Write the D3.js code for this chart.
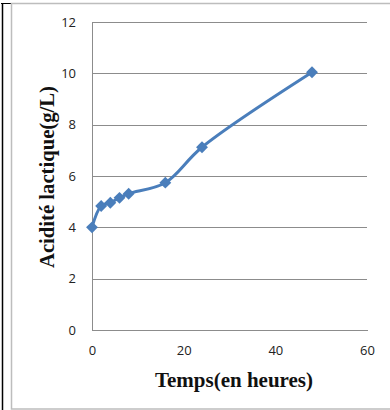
<!DOCTYPE html>
<html>
<head>
<meta charset="utf-8">
<script src="https://cdn.jsdelivr.net/npm/d3@7"></script>
<style>
  html, body { margin: 0; padding: 0; background: #fff; }
  svg { display: block; }
</style>
</head>
<body>
<svg id="chart" width="390" height="410"></svg>
<script>
// Lactic acid concentration over fermentation time
const hours = [0, 2, 4, 6, 8, 16, 24, 48];
const acidity = [4.0, 4.83, 4.96, 5.15, 5.31, 5.74, 7.12, 10.04];
const xTicks = [0, 20, 40, 60];
const yTicks = [0, 2, 4, 6, 8, 10, 12];
const xTitle = "Temps(en heures)";
const yTitle = "Acidité lactique(g/L)";

const svg = d3.select("#chart");
const W = 390, H = 410;
const plot = { left: 92, right: 367, top: 22, bottom: 330 };

// outer frame
svg.append("line").attr("x1", 2.5).attr("x2", 2.5).attr("y1", 3).attr("y2", H)
  .attr("stroke", "#000").attr("stroke-width", 1.5);
svg.append("line").attr("x1", 1).attr("x2", 11).attr("y1", 3.5).attr("y2", 3.5)
  .attr("stroke", "#000").attr("stroke-width", 1);
svg.append("rect").attr("x", 11.5).attr("y", 3.5).attr("width", W).attr("height", H - 4.5)
  .attr("fill", "none").attr("stroke", "#bdbdbd").attr("stroke-width", 1.5);

const x = d3.scaleLinear().domain([0, 60]).range([plot.left, plot.right]);
const y = d3.scaleLinear().domain([0, 12]).range([plot.bottom, plot.top]);

// horizontal gridlines
const yAxis = d3.axisLeft(y).tickValues(yTicks).tickSize(-(plot.right - plot.left)).tickPadding(16);
const gy = svg.append("g").attr("transform", `translate(${plot.left},0)`).call(yAxis);
gy.select(".domain").attr("stroke", "#8c8c8c");
gy.selectAll(".tick line").attr("stroke", "#8c8c8c").attr("shape-rendering", "crispEdges");
gy.selectAll(".tick text").attr("font-family", "'Open Sans', sans-serif").attr("font-size", 13)
  .attr("fill", "#222");
gy.select(".domain").attr("shape-rendering", "crispEdges");

const xAxis = d3.axisBottom(x).tickValues(xTicks).tickSize(0).tickPadding(16);
const gx = svg.append("g").attr("transform", `translate(0,${plot.bottom})`).call(xAxis);
gx.select(".domain").attr("stroke", "#8c8c8c").attr("shape-rendering", "crispEdges");
gx.selectAll(".tick text").attr("font-family", "'Open Sans', sans-serif").attr("font-size", 13)
  .attr("fill", "#222");

// data series
const pts = hours.map((h, i) => [h, acidity[i]]);
const line = d3.line().x(d => x(d[0])).y(d => y(d[1])).curve(d3.curveCatmullRom.alpha(0.5));
svg.append("path").attr("d", line(pts)).attr("fill", "none")
  .attr("stroke", "#4a7ebb").attr("stroke-width", 3).attr("stroke-linejoin", "round");

svg.append("g").selectAll("path").data(pts).join("path")
  .attr("d", d3.symbol(d3.symbolDiamond2, 90)())
  .attr("transform", d => `translate(${x(d[0])},${y(d[1])})`)
  .attr("fill", "#4a7ebb");

// axis titles
svg.append("text").attr("x", 234).attr("y", 387).attr("text-anchor", "middle")
  .attr("font-family", "'Liberation Serif', serif").attr("font-weight", "bold")
  .attr("font-size", 21).attr("fill", "#111").text(xTitle);
svg.append("text").attr("transform", "translate(54,177) rotate(-90)").attr("text-anchor", "middle")
  .attr("font-family", "'Liberation Serif', serif").attr("font-weight", "bold")
  .attr("font-size", 21).attr("textLength", 182).attr("lengthAdjust", "spacingAndGlyphs")
  .attr("fill", "#111").text(yTitle);
</script>
</body>
</html>
